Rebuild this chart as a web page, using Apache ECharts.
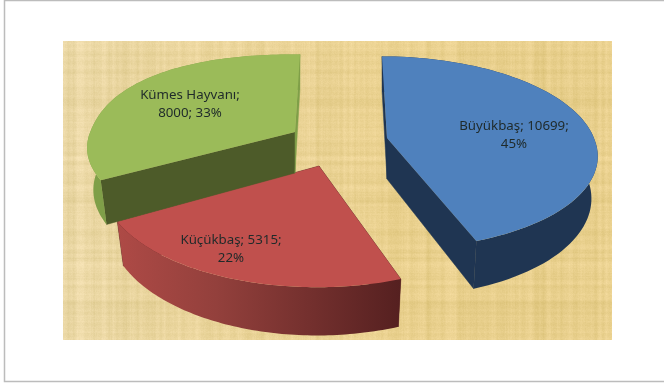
<!DOCTYPE html>
<html><head><meta charset="utf-8">
<style>html,body{margin:0;padding:0;background:#fff}#c{width:664px;height:385px;filter:blur(0.45px)}</style>
<script src="https://cdn.jsdelivr.net/npm/echarts@6/dist/echarts.min.js"></script>
</head><body><div id="c"></div>
<script>
const categories = ['Büyükbaş', 'Küçükbaş', 'Kümes Hayvanı'];
const values = [10699, 5315, 8000];
const labelTexts = ['Büyükbaş; 10699;\n45%', 'Küçükbaş; 5315;\n22%', 'Kümes Hayvanı;\n8000; 33%'];

// layout of the exploded, tilted slices
const centers = [[387, 138], [319, 166], [295, 132]];
const skewsBack = [5, 0, -5];
const skewsFront = [9, -2, -5];
const xScales = [0.985, 1.02, 0.975];
const yScales = [1.02, 1.12, 0.97];
const roundnessBack = [2, 2, 2.3];
const labelPos = [[514, 135], [231, 249], [190, 104]];
const topColors = ['#4F81BD', '#C0504D', '#9BBB59'];
const faceColors = ['#1F3552', '#5A2323', '#4D5B29'];
const RX = 210, RY = 92, PERSP = 0.15, DEPTH = 41, BASE_SCALE = 0.97;
const arcFills = [
  '#1F3552',
  {type:'linear',x:0,y:0,x2:1,y2:0,colorStops:[{offset:0,color:'#AE4A46'},{offset:0.35,color:'#93403C'},{offset:1,color:'#552020'}]},
  '#7F9F48'
];

const total = values.reduce((a,b)=>a+b,0);

function pt(i, theta, base) {
  let u = Math.sin(theta), v = -Math.cos(theta);
  const n = v < 0 ? roundnessBack[i] : 2;
  const r = Math.pow(Math.pow(Math.abs(u), n) + Math.pow(Math.abs(v), n), -1 / n);
  u *= r; v *= r;
  const w = 1 - PERSP * v;
  const c = centers[i];
  const skew = v < 0 ? skewsBack[i] : skewsFront[i];
  let x = RX * xScales[i] * u / w + skew * v, y = RY * yScales[i] * v / w;
  if (base) { x *= BASE_SCALE; y = y + DEPTH / w; }
  return [c[0] + x, c[1] + y];
}
function apex(i, base) {
  const c = centers[i];
  return base ? [c[0], c[1] + DEPTH] : [c[0], c[1]];
}

function texture() {
  const W = 549, H = 299;
  const cv = document.createElement('canvas');
  cv.width = W; cv.height = H;
  const g = cv.getContext('2d');
  let s = 12345;
  const rnd = () => (s = (s * 1103515245 + 12345) & 0x7fffffff) / 0x7fffffff;
  const smooth = (n, r) => {
    const a = []; for (let i = 0; i < n + r; i++) a.push(rnd() - 0.5);
    const o = [];
    for (let i = 0; i < n; i++) { let t = 0; for (let j = 0; j < r; j++) t += a[i + j]; o.push(t / Math.sqrt(r)); }
    return o;
  };
  const rows = smooth(H, 4), cols = smooth(W, 4);
  const img = g.createImageData(W, H);
  for (let y = 0; y < H; y++) for (let x = 0; x < W; x++) {
    const n = (rows[y] + cols[x]) * 9 + (rnd() - 0.5) * 5;
    const pale = Math.max(0, 1 - x / 330);
    const i = (y * W + x) * 4;
    img.data[i] = 232 + n + pale * 2;
    img.data[i + 1] = 207 + n + pale * 8;
    img.data[i + 2] = 140 + n * 1.5 + pale * 24;
    img.data[i + 3] = 255;
  }
  g.putImageData(img, 0, 0);
  return cv;
}

function renderItem(params, api) {
  const i = params.dataIndex;
  let startV = 0;
  for (let j = 0; j < i; j++) startV += values[j];
  const a0 = startV / total * Math.PI * 2;
  const a1 = (startV + api.value(0)) / total * Math.PI * 2;
  const STEPS = 80;
  const topArc = [], baseArc = [];
  for (let k = 0; k <= STEPS; k++) {
    const t = a0 + (a1 - a0) * k / STEPS;
    topArc.push(pt(i, t, false));
    baseArc.push(pt(i, t, true));
  }
  const A = apex(i, false), B = apex(i, true);
  const face = (t, fill) => ({
    type: 'polygon',
    shape: { points: [A, pt(i, t, false), pt(i, t, true), B] },
    style: { fill, stroke: fill, lineWidth: 0.5 }
  });
  const children = [
    face(a0, faceColors[i]),
    face(a1, i === 2 ? '#7F9F48' : faceColors[i]),
    {
      type: 'polygon',
      shape: { points: topArc.concat(baseArc.slice().reverse()) },
      style: { fill: arcFills[i] }
    },
    {
      type: 'polygon',
      shape: { points: [A].concat(topArc) },
      style: { fill: topColors[i] }
    },
    {
      type: 'text',
      style: {
        x: labelPos[i][0], y: labelPos[i][1],
        text: labelTexts[i],
        fill: '#1f2a2a',
        font: '13.3px "Noto Sans"',
        lineHeight: 18,
        align: 'center', verticalAlign: 'middle'
      }
    }
  ];
  return { type: 'group', children };
}

const chart = echarts.init(document.getElementById('c'), null, { renderer: 'canvas' });
chart.setOption({
  animation: false,
  backgroundColor: '#ffffff',
  graphic: [
    { type: 'rect', z: -2, shape: { x: 4.5, y: 0.5, width: 670, height: 381 },
      style: { fill: '#fff', stroke: '#bcbcbc', lineWidth: 1.5 } },
    { type: 'image', z: -1, style: { image: texture(), x: 63, y: 41, width: 549, height: 299 } }
  ],
  series: [{
    type: 'custom',
    coordinateSystem: 'none',
    renderItem,
    data: categories.map((name, i) => ({ name, value: [values[i]] }))
  }]
});
</script></body></html>
